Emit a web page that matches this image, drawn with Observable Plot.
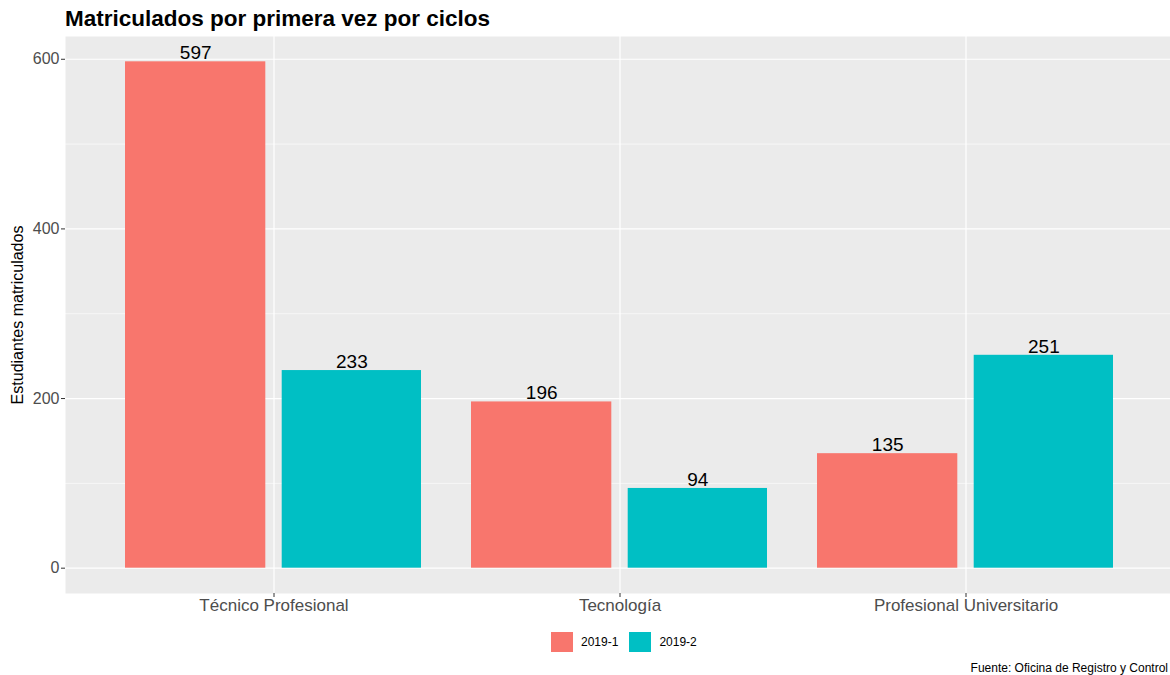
<!DOCTYPE html>
<html>
<head>
<meta charset="utf-8">
<script src="https://cdn.jsdelivr.net/npm/d3@7"></script>
<script src="https://cdn.jsdelivr.net/npm/@observablehq/plot@0.6"></script>
<style>
  html, body { margin: 0; padding: 0; background: #fff; width: 1170px; height: 675px; overflow: hidden; }
  body { position: relative; font-family: "Liberation Sans", Arial, Helvetica, sans-serif; }
  #title { height: 30px; box-sizing: border-box; padding-left: 65px; padding-top: 8px; font-size: 22.5px; font-weight: bold; line-height: 22px; color: #000; white-space: nowrap; }
  #chart { width: 1170px; overflow: hidden; }
  #chart svg { display: block; max-width: none !important; }
  #legend { position: absolute; top: 632px; left: 551px; display: flex; align-items: center; font-size: 12px; color: #000; }
  .item { display: flex; align-items: center; margin-right: 11px; }
  .sw { width: 22px; height: 20px; margin-right: 8px; }
  #caption { position: absolute; top: 661px; right: 2px; font-size: 12px; white-space: nowrap; color: #000; }
</style>
</head>
<body>
<div id="title">Matriculados por primera vez por ciclos</div>
<div id="chart"></div>
<div id="legend"></div>
<div id="caption">Fuente: Oficina de Registro y Control</div>
<script>
const ciclos = ["Técnico Profesional", "Tecnología", "Profesional Universitario"];
const periodos = ["2019-1", "2019-2"];
const valores2019_1 = [597, 196, 135];
const valores2019_2 = [233, 94, 251];
const colores = ["#F8766D", "#00BFC4"];
const yTicks = [0, 200, 400, 600];
const yMinorTicks = [100, 300, 500];
const yTitulo = "Estudiantes matriculados";

const rows = [];
ciclos.forEach((c, i) => {
  rows.push({ciclo: c, periodo: periodos[0], valor: valores2019_1[i]});
  rows.push({ciclo: c, periodo: periodos[1], valor: valores2019_2[i]});
});
const serie1 = rows.filter(d => d.periodo === periodos[0]);
const serie2 = rows.filter(d => d.periodo === periodos[1]);

const maxV = d3.max(rows, d => d.valor);
const pad = maxV * 0.05;

const plot = Plot.plot({
  width: 1180,
  height: 593,
  marginLeft: 65,
  marginRight: 6,
  marginTop: 6,
  marginBottom: 30,
  style: {fontFamily: "'Liberation Sans', Arial, Helvetica, sans-serif", background: "transparent"},
  x: {type: "band", domain: ciclos, paddingInner: 0.1465, paddingOuter: 0.17325, align: 0.5},
  y: {domain: [-pad, maxV + pad]},
  color: {domain: periodos, range: colores},
  marks: [
    Plot.frame({fill: "#EBEBEB", stroke: null}),
    Plot.gridY(yMinorTicks, {stroke: "#FFFFFF", strokeOpacity: 1, strokeWidth: 0.6}),
    Plot.gridY(yTicks, {stroke: "#FFFFFF", strokeOpacity: 1, strokeWidth: 1.2}),
    Plot.gridX(ciclos, {stroke: "#FFFFFF", strokeOpacity: 1, strokeWidth: 1.2}),
    Plot.barY(serie1, {x: "ciclo", y: "valor", fill: "periodo", insetLeft: -1, insetRight: 155.7}),
    Plot.barY(serie2, {x: "ciclo", y: "valor", fill: "periodo", insetLeft: 155.7, insetRight: 0}),
    Plot.text(serie1, {x: "ciclo", y: "valor", text: d => String(d.valor), dx: -78.3, dy: -2.5, lineAnchor: "bottom", fontSize: 19, fill: "#000"}),
    Plot.text(serie2, {x: "ciclo", y: "valor", text: d => String(d.valor), dx: 77.85, dy: -2.5, lineAnchor: "bottom", fontSize: 19, fill: "#000"}),
    Plot.axisY(yTicks, {tickSize: 4, tickPadding: 2, fontSize: 16, fill: "#4D4D4D", stroke: "#333333", label: null}),
    Plot.axisX({tickSize: 4, tickPadding: 1.5, fontSize: 17, fill: "#4D4D4D", stroke: "#333333", label: null}),
    Plot.text([yTitulo], {frameAnchor: "left", text: d => d, rotate: -90, dx: -48, fontSize: 16, fill: "#000", textAnchor: "middle", lineAnchor: "middle"})
  ]
});
document.getElementById("chart").appendChild(plot);

// legend built from the same arrays
const legend = document.getElementById("legend");
periodos.forEach((p, i) => {
  const item = document.createElement("div");
  item.className = "item";
  const sw = document.createElement("div");
  sw.className = "sw";
  sw.style.background = colores[i];
  const lab = document.createElement("span");
  lab.textContent = p;
  item.appendChild(sw);
  item.appendChild(lab);
  legend.appendChild(item);
});
</script>
</body>
</html>
